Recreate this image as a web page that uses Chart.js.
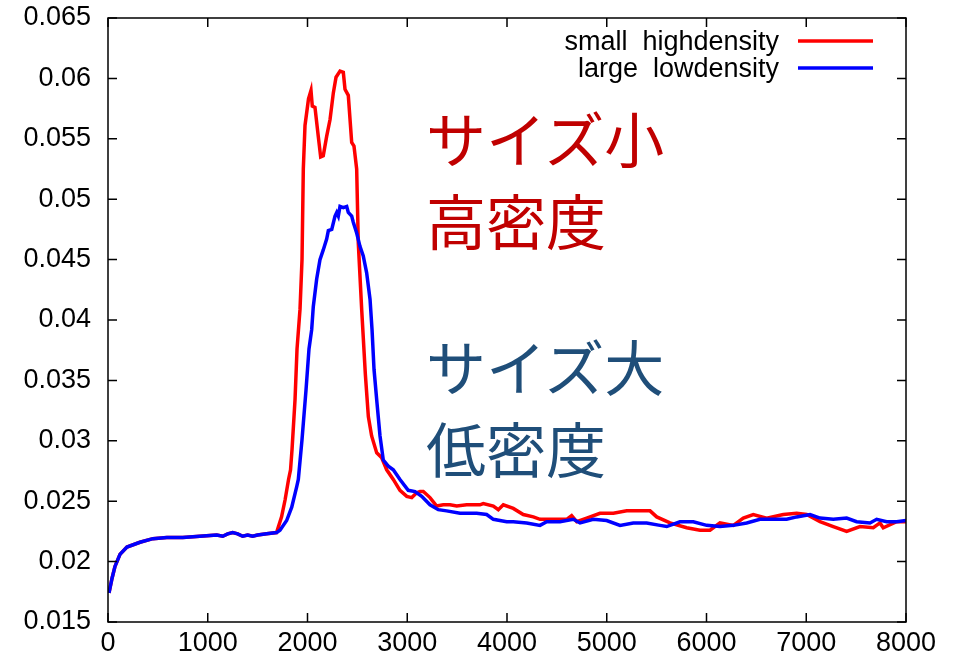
<!DOCTYPE html>
<html>
<head>
<meta charset="utf-8">
<script src="https://cdn.jsdelivr.net/npm/chart.js@4"></script>
<style>
  body { margin: 0; background: #fff; }
  #wrap { position: relative; width: 958px; height: 664px; }
  .note { position: absolute; left: 426px; font-family: "Noto Sans CJK JP", sans-serif; font-size: 60px; line-height: 82px; white-space: nowrap; }
  #noteSmall { top: 96px; color: #c00000; }
  #noteLarge { top: 324px; color: #1f4e79; }
</style>
</head>
<body>
<div id="wrap">
  <canvas id="chart" width="958" height="664"></canvas>
  <div class="note" id="noteSmall">サイズ小<br>高密度</div>
  <div class="note" id="noteLarge">サイズ大<br>低密度</div>
</div>
<script>
const xTicks = [0, 1000, 2000, 3000, 4000, 5000, 6000, 7000, 8000];
const yTicks = [0.015, 0.02, 0.025, 0.03, 0.035, 0.04, 0.045, 0.05, 0.055, 0.06, 0.065];

const seriesNames = ['small  highdensity', 'large  lowdensity'];

// shared start of both curves (they overlap up to ~1700)
const baseX = [10, 40, 70, 120, 190, 320, 450, 590, 750, 920, 1090, 1150, 1200, 1250, 1300, 1350, 1400, 1450, 1500, 1590, 1690];
const baseY = [0.0174, 0.0186, 0.0196, 0.0206, 0.0212, 0.0216, 0.0219, 0.0220, 0.0220, 0.0221, 0.0222, 0.0221, 0.0223, 0.0224, 0.0223, 0.0221, 0.0222, 0.0221, 0.0222, 0.0223, 0.0224];

const smallX = [1740, 1775, 1810, 1830, 1845, 1875, 1895, 1925, 1945, 1958, 1975, 2010, 2035, 2048, 2075, 2108, 2132, 2158, 2192, 2226, 2259, 2286, 2326, 2359, 2376, 2409, 2443, 2466, 2493, 2509, 2543, 2580, 2610, 2643, 2694, 2744, 2794, 2860, 2927, 2995, 3045, 3095, 3128, 3161, 3228, 3295, 3361, 3429, 3496, 3596, 3729, 3762, 3863, 3913, 3963, 4063, 4163, 4264, 4331, 4464, 4598, 4648, 4699, 4799, 4932, 5066, 5200, 5333, 5434, 5501, 5634, 5801, 5935, 6035, 6135, 6269, 6369, 6469, 6603, 6770, 6904, 7004, 7138, 7271, 7405, 7539, 7672, 7739, 7772, 7906, 8000];
const smallY = [0.0237, 0.0251, 0.0268, 0.0276, 0.0293, 0.0334, 0.0376, 0.0409, 0.0450, 0.0525, 0.0561, 0.0583, 0.0590, 0.0577, 0.0576, 0.0552, 0.0535, 0.0536, 0.0552, 0.0566, 0.0588, 0.0601, 0.0606, 0.0605, 0.0591, 0.0586, 0.0547, 0.0544, 0.0525, 0.0464, 0.0409, 0.0355, 0.0320, 0.0304, 0.0290, 0.0286, 0.0276, 0.0268, 0.0259, 0.0254, 0.0253, 0.0257, 0.0258, 0.0258, 0.0253, 0.0246, 0.0247, 0.0247, 0.0246, 0.0247, 0.0247, 0.0248, 0.0246, 0.0243, 0.0247, 0.0244, 0.0239, 0.0237, 0.0235, 0.0235, 0.0235, 0.0238, 0.0233, 0.0236, 0.0240, 0.0240, 0.0242, 0.0242, 0.0242, 0.0237, 0.0232, 0.0228, 0.0226, 0.0226, 0.0232, 0.0230, 0.0236, 0.0239, 0.0236, 0.0239, 0.0240, 0.0239, 0.0233, 0.0229, 0.0225, 0.0229, 0.0228, 0.0232, 0.0228, 0.0233, 0.0233];

const largeX = [1724, 1791, 1842, 1892, 1908, 1945, 1985, 2015, 2042, 2058, 2092, 2125, 2158, 2192, 2209, 2243, 2276, 2293, 2309, 2326, 2359, 2393, 2409, 2443, 2459, 2493, 2526, 2559, 2593, 2627, 2647, 2667, 2697, 2727, 2760, 2810, 2860, 2927, 3010, 3078, 3145, 3228, 3311, 3395, 3529, 3696, 3796, 3863, 3997, 4063, 4197, 4331, 4398, 4531, 4665, 4732, 4865, 4999, 5133, 5266, 5400, 5534, 5601, 5734, 5868, 6002, 6135, 6269, 6403, 6536, 6670, 6804, 6904, 7038, 7138, 7271, 7405, 7505, 7639, 7706, 7806, 7906, 8000];
const largeY = [0.0226, 0.0234, 0.0245, 0.0262, 0.0268, 0.0301, 0.0342, 0.0376, 0.0392, 0.0411, 0.0434, 0.0450, 0.0458, 0.0467, 0.0474, 0.0475, 0.0486, 0.0489, 0.0486, 0.0494, 0.0493, 0.0494, 0.0489, 0.0486, 0.0481, 0.0472, 0.0461, 0.0453, 0.0439, 0.0417, 0.0392, 0.0359, 0.0331, 0.0304, 0.0284, 0.0279, 0.0276, 0.0268, 0.0259, 0.0258, 0.0254, 0.0247, 0.0243, 0.0242, 0.0240, 0.0240, 0.0239, 0.0235, 0.0233, 0.0233, 0.0232, 0.0230, 0.0233, 0.0233, 0.0235, 0.0232, 0.0235, 0.0234, 0.0230, 0.0232, 0.0232, 0.0230, 0.0229, 0.0233, 0.0233, 0.0230, 0.0229, 0.0230, 0.0232, 0.0235, 0.0235, 0.0235, 0.0237, 0.0239, 0.0236, 0.0235, 0.0236, 0.0233, 0.0232, 0.0235, 0.0233, 0.0233, 0.0234];

const colors = ['#ff0000', '#0000ff'];

function points(xs, ys) {
  return xs.map((x, i) => ({ x: x, y: ys[i] }));
}

const tickFont = { family: '"Liberation Sans", Arial, sans-serif', size: 27 };

// gnuplot style frame with inward ticks on all four sides, plus the key
const framePlugin = {
  id: 'frame',
  afterDatasetsDraw(chart) {
    const ctx = chart.ctx;
    const a = chart.chartArea;
    const sx = chart.scales.x, sy = chart.scales.y;
    const len = 9;
    ctx.save();
    ctx.strokeStyle = '#000';
    ctx.lineWidth = 1.5;
    ctx.strokeRect(a.left, a.top, a.right - a.left, a.bottom - a.top);
    ctx.beginPath();
    xTicks.forEach(v => {
      const p = sx.getPixelForValue(v);
      ctx.moveTo(p, a.bottom); ctx.lineTo(p, a.bottom - len);
      ctx.moveTo(p, a.top); ctx.lineTo(p, a.top + len);
    });
    yTicks.forEach(v => {
      const p = sy.getPixelForValue(v);
      ctx.moveTo(a.left, p); ctx.lineTo(a.left + len, p);
      ctx.moveTo(a.right, p); ctx.lineTo(a.right - len, p);
    });
    ctx.stroke();

    // key
    ctx.font = '27px "Liberation Sans", Arial, sans-serif';
    ctx.fillStyle = '#000';
    ctx.textAlign = 'right';
    ctx.textBaseline = 'alphabetic';
    seriesNames.forEach((name, i) => {
      const y = 50 + i * 27;
      ctx.fillText(name, 779, y);
      ctx.strokeStyle = colors[i];
      ctx.lineWidth = 3.5;
      ctx.beginPath();
      ctx.moveTo(798, y - 9);
      ctx.lineTo(873, y - 9);
      ctx.stroke();
    });
    ctx.restore();
  }
};

new Chart(document.getElementById('chart'), {
  type: 'line',
  data: {
    datasets: [{
      label: seriesNames[0],
      data: points(baseX.concat(smallX), baseY.concat(smallY)),
      borderColor: colors[0],
      borderWidth: 3.5,
      pointRadius: 0,
      tension: 0,
      order: 1
    }, {
      label: seriesNames[1],
      data: points(baseX.concat(largeX), baseY.concat(largeY)),
      borderColor: colors[1],
      borderWidth: 3.5,
      pointRadius: 0,
      tension: 0,
      order: 0
    }]
  },
  options: {
    responsive: false,
    animation: false,
    layout: { padding: { top: 18, right: 52, left: 0, bottom: 0 } },
    plugins: {
      legend: { display: false },
      tooltip: { enabled: false }
    },
    scales: {
      x: {
        type: 'linear',
        min: 0,
        max: 8000,
        afterFit: (s) => { s.height = 42; s.paddingLeft = 0; s.paddingRight = 0; },
        afterBuildTicks: (s) => { s.ticks = xTicks.map(v => ({ value: v })); },
        grid: { display: false, drawTicks: false },
        border: { display: false },
        ticks: { font: tickFont, color: '#000', padding: 5, maxRotation: 0, callback: (v) => String(v) }
      },
      y: {
        type: 'linear',
        min: 0.015,
        max: 0.065,
        afterFit: (s) => { s.width = 108; s.paddingTop = 0; s.paddingBottom = 0; },
        afterBuildTicks: (s) => { s.ticks = yTicks.map(v => ({ value: v })); },
        grid: { display: false, drawTicks: false },
        border: { display: false },
        ticks: { font: tickFont, color: '#000', padding: 17, callback: (v) => String(parseFloat(v.toFixed(3))) }
      }
    }
  },
  plugins: [framePlugin]
});
</script>
</body>
</html>
